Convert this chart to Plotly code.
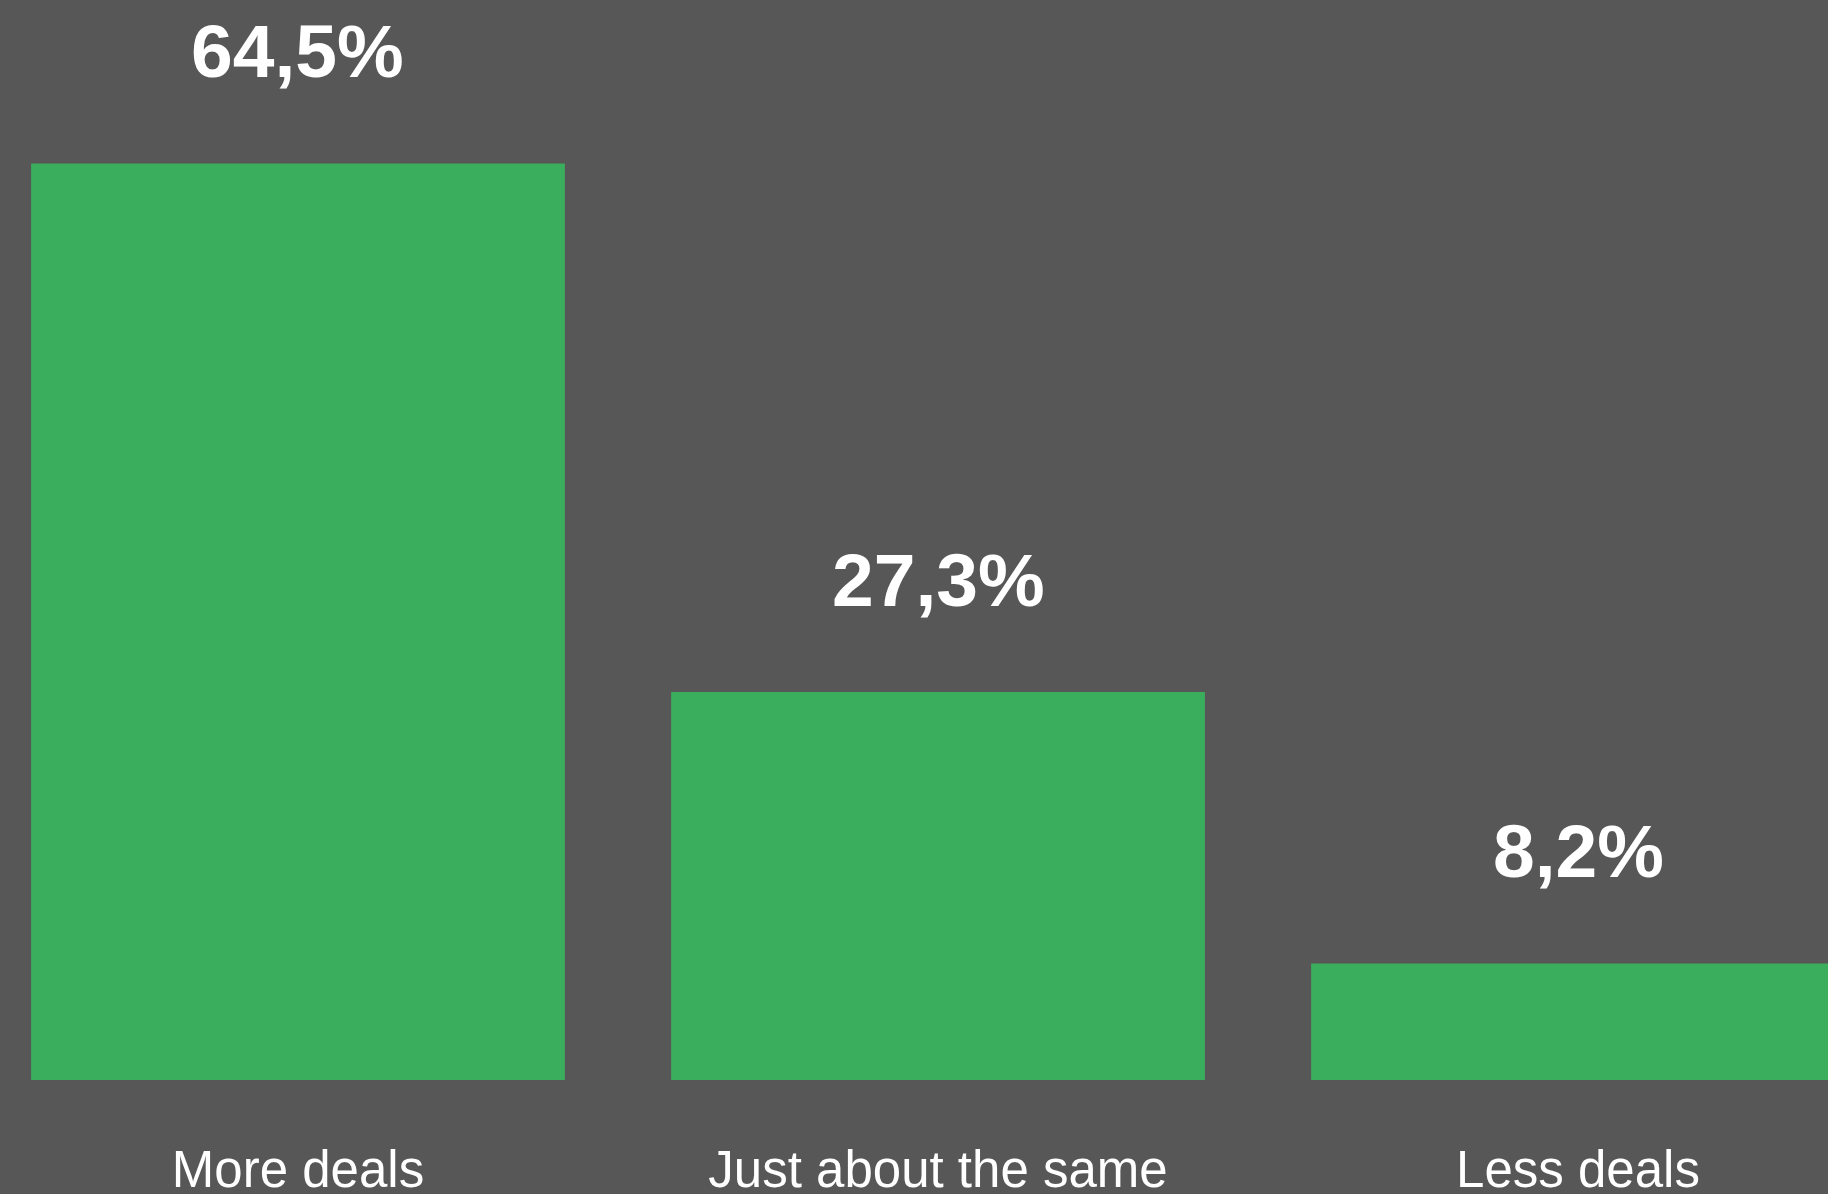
import plotly.graph_objects as go

categories = ["More deals", "Just about the same", "Less deals"]
values = [64.5, 27.3, 8.2]
value_labels = ["64,5%", "27,3%", "8,2%"]

BG = "#575757"
GREEN = "#3AAE5C"

fig = go.Figure()
fig.add_trace(go.Bar(
    x=list(range(len(categories))),
    y=values,
    marker=dict(color=GREEN, line=dict(width=0)),
    hoverinfo="skip",
))

for i, (v, lab) in enumerate(zip(values, value_labels)):
    fig.add_annotation(
        x=i, y=v, text=lab, showarrow=False,
        xref="x", yref="y", yanchor="middle", xanchor="center",
        yshift=112,
        font=dict(family="Liberation Sans, Arial, sans-serif", size=75, color="white", weight="bold"),
    )

fig.update_layout(
    width=1828, height=1194,
    margin=dict(l=0, r=0, t=0, b=114, pad=0),
    paper_bgcolor=BG, plot_bgcolor=BG,
    bargap=0.166,
    showlegend=False,
    xaxis=dict(
        range=[-0.4656, 2.3906],
        tickmode="array",
        tickvals=list(range(len(categories))),
        ticktext=categories,
        tickfont=dict(family="Liberation Sans, Arial, sans-serif", size=51, color="white"),
        showgrid=False, zeroline=False, showline=False, ticks="",
        ticklabelstandoff=55,
        automargin=False,
        fixedrange=True,
    ),
    yaxis=dict(
        range=[0, 76],
        visible=False,
        showgrid=False, zeroline=False,
        automargin=False,
        fixedrange=True,
    ),
)

fig.write_html("out.html", config={"displayModeBar": False})
